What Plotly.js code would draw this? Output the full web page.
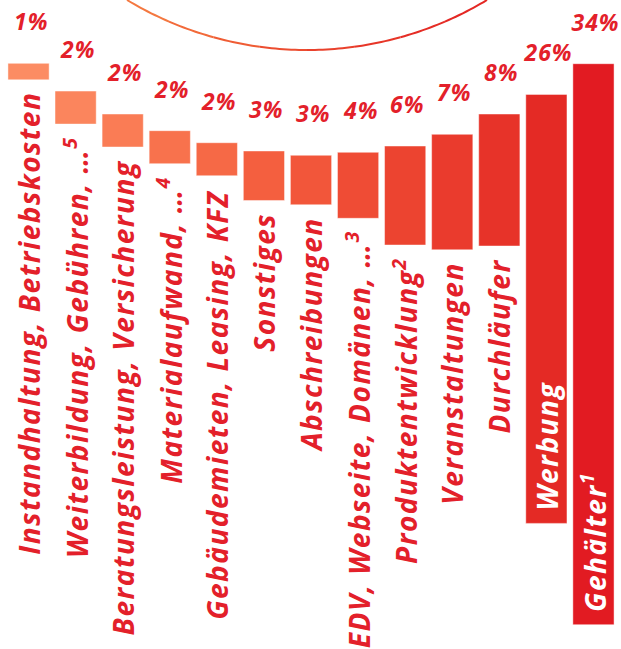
<!DOCTYPE html>
<html><head><meta charset="utf-8">
<script src="https://cdn.plot.ly/plotly-3.0.1.min.js"></script>
<style>html,body{margin:0;padding:0;background:#fff}</style>
</head><body><div id="chart" style="width:621px;height:649px"></div>
<script>
// ---- data ----
const categories = [
  "Instandhaltung, Betriebskosten",
  "Weiterbildung, Gebühren, …<sup>5</sup>",
  "Beratungsleistung, Versicherung",
  "Materialaufwand, …<sup>4</sup>",
  "Gebäudemieten, Leasing, KFZ",
  "Sonstiges",
  "Abschreibungen",
  "EDV, Webseite, Domänen, …<sup>3</sup>",
  "Produktentwicklung<sup>2</sup>",
  "Veranstaltungen",
  "Durchläufer",
  "Werbung",
  "Gehälter<sup>1</sup>"
];
const shares = [1, 2, 2, 2, 2, 3, 3, 4, 6, 7, 8, 26, 34];           // percent
const barStart = [3.84, 5.52, 6.91, 7.92, 8.65, 9.15, 9.41, 9.23, 8.85, 8.14, 6.91, 5.72, 3.86]; // floating start (percent units)
const percentLabels = ["1%", "2%", "2%", "2%", "2%", "3%", "3%", "4%", "6%", "7%", "8%", "26%", "34%"];
const barColors = ["#fc8c63", "#fb855d", "#fa7c55", "#f8724d", "#f66946", "#f45f3f", "#f2563a", "#ef4c35", "#ec4430", "#ea3b2d", "#e73329", "#e42a25", "#e21b22"];

// ---- chart ----
const W = 621, H = 649, ML = 5, MR = 4;
const pxPerUnit = 16.5;
const textRed = "#e3202a";
const catSize = 28, catSpacing = 1.5;
const pctSize = 23, pctSpacing = 1;
const idx = categories.map((_, i) => i);
const plainLen = s => s.replace(/<[^>]+>/g, "").length;

const trace = {
  type: "bar",
  x: idx,
  y: shares,
  base: barStart,
  width: 0.875,
  marker: { color: barColors, line: { color: "rgba(255,255,255,0.45)", width: 1 } },
  hoverinfo: "skip"
};

const annotations = [];
const spacingFor = [];
idx.forEach(i => {
  annotations.push({
    x: i, y: barStart[i], xref: "x", yref: "y",
    text: percentLabels[i], showarrow: false,
    yanchor: "bottom", xanchor: "center", yshift: 24, xshift: 2,
    font: { family: "Open Sans", size: pctSize, weight: 700, style: "italic", color: textRed }
  });
  spacingFor.push(pctSpacing);
  const inside = shares[i] > 20;
  const grow = (plainLen(categories[i]) - 1) * catSpacing / 2;
  annotations.push({
    x: i, y: barStart[i] + shares[i], xref: "x", yref: "y",
    text: categories[i], showarrow: false, textangle: -90,
    yanchor: inside ? "bottom" : "top", xanchor: "center",
    yshift: inside ? 12 + grow : -11 - grow,
    font: { family: "Open Sans", size: catSize, weight: 700, style: "italic", color: inside ? "#ffffff" : textRed }
  });
  spacingFor.push(catSpacing);
});

// decorative arc at the top (bottom part of a large circle)
const shapes = [];
const cx = 307, cy = -299, R = 349;
const arcCols = ["#f47840", "#f26a3a", "#ef5c34", "#ec4d30", "#e9412c", "#e73628", "#e52d26", "#e42824"];
const th1 = Math.PI - Math.asin(-cy / R), th2 = Math.asin(-cy / R);
const nSeg = arcCols.length;
const toPaper = (px, py) => [((px - ML) / (W - ML - MR)).toFixed(5), (1 - py / H).toFixed(5)];
for (let s = 0; s < nSeg; s++) {
  const ta = th1 + (th2 - th1) * s / nSeg;
  const tb = th1 + (th2 - th1) * (s + 1) / nSeg;
  let d = "";
  for (let k = 0; k <= 12; k++) {
    const t = ta + (tb - ta) * k / 12;
    const p = toPaper(cx + R * Math.cos(t), cy + R * Math.sin(t));
    d += (k === 0 ? "M" : " L") + p[0] + "," + p[1];
  }
  shapes.push({ type: "path", xref: "paper", yref: "paper", path: d,
    line: { color: arcCols[s], width: 2 }, layer: "above" });
}

const layout = {
  width: W, height: H,
  margin: { l: ML, r: MR, t: 0, b: 0, pad: 0 },
  paper_bgcolor: "#ffffff", plot_bgcolor: "#ffffff",
  showlegend: false,
  xaxis: { range: [-0.5, 12.5], visible: false, fixedrange: true },
  yaxis: { range: [H / pxPerUnit, 0], visible: false, fixedrange: true },
  annotations: annotations,
  shapes: shapes
};

Plotly.newPlot("chart", [trace], layout, { staticPlot: true, displayModeBar: false }).then(gd => {
  gd.querySelectorAll(".annotation").forEach(a => {
    const k = +a.getAttribute("data-index");
    const t = a.querySelector(".annotation-text");
    if (t && !isNaN(k)) t.style.letterSpacing = spacingFor[k] + "px";
  });
});
</script></body></html>
